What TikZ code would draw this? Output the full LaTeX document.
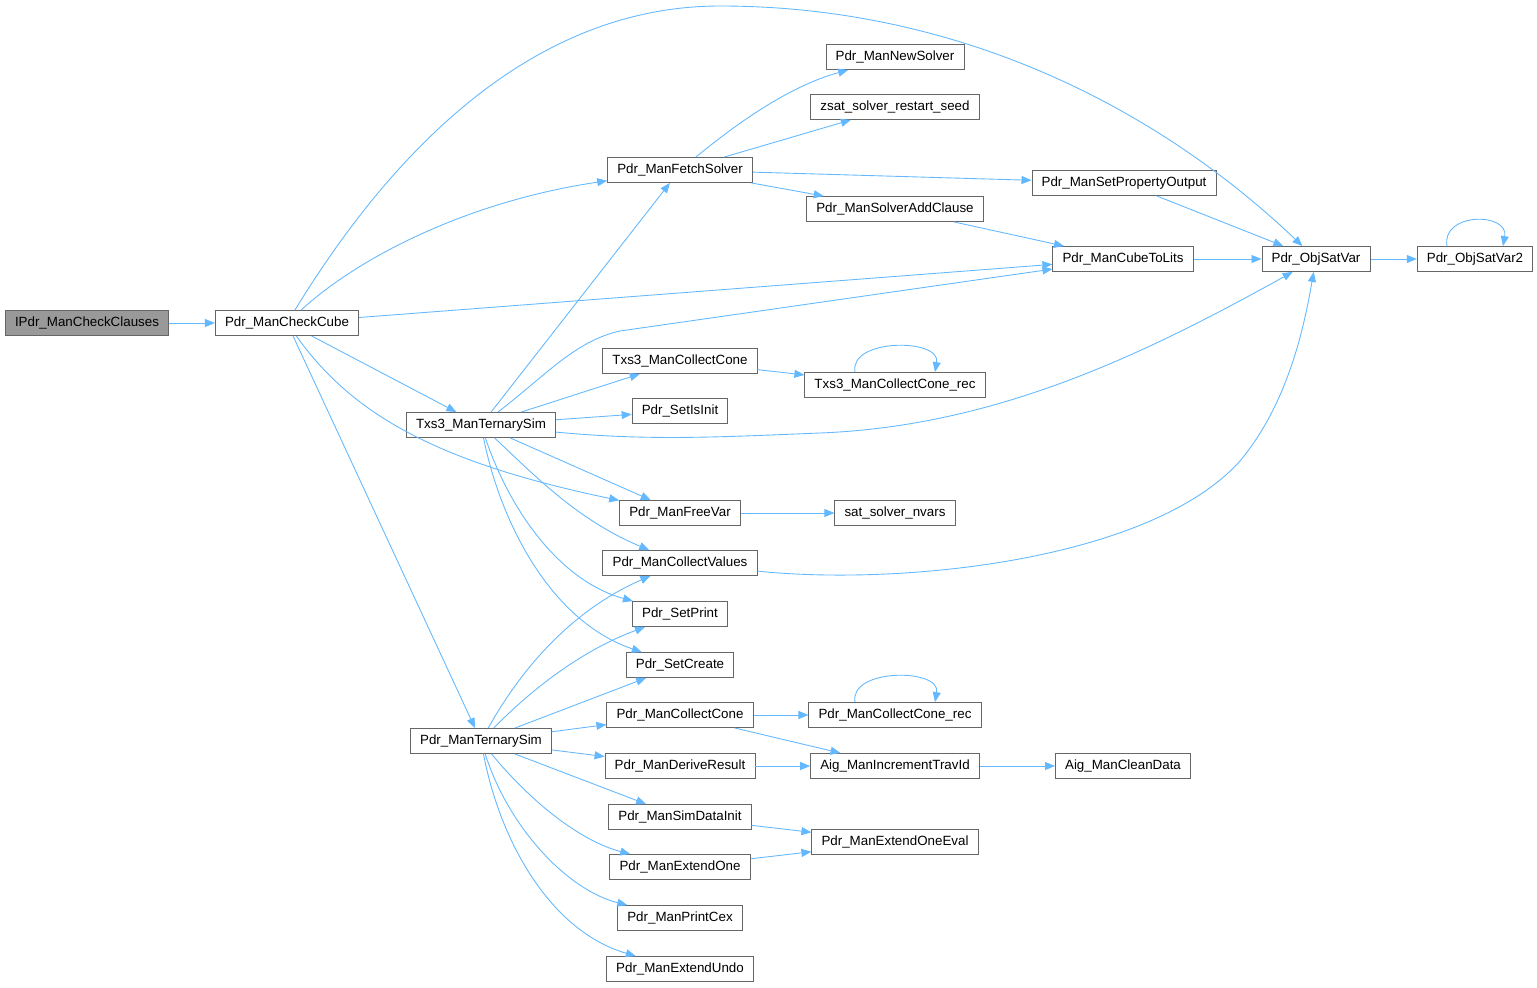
\documentclass[tikz,border=0pt]{standalone}
\usepackage{fontspec}
\setmainfont{Liberation Sans}
\usetikzlibrary{arrows.meta, calc}
\definecolor{callblue}{HTML}{63B8FF}
\definecolor{boxgray}{HTML}{666666}
\definecolor{rootgray}{HTML}{999999}

\begin{document}
\begin{tikzpicture}[
  x=0.02cm, y=-0.02cm,
  font=\fontsize{7.6}{9}\selectfont,
  fn/.style={draw=boxgray, fill=white, line width=0.5pt, minimum height=0.5cm, inner xsep=5.5pt, inner ysep=0pt},
  rootfn/.style={fn, fill=rootgray},
  call/.style={-{Triangle[length=2mm, width=1.6mm]}, callblue, line width=0.5pt}]
\useasboundingbox (0,-1) rectangle (1537,986);
% functions
\node[rootfn] (root) at (87,322) {IPdr\_ManCheckClauses};
\node[fn] (cc)   at (287,322) {Pdr\_ManCheckCube};
\node[fn] (fs)   at (680,169) {Pdr\_ManFetchSolver};
\node[fn] (ns)   at (895,56)  {Pdr\_ManNewSolver};
\node[fn] (zs)   at (895,106) {zsat\_solver\_restart\_seed};
\node[fn] (spo)  at (1124,182) {Pdr\_ManSetPropertyOutput};
\node[fn] (sac)  at (895,208) {Pdr\_ManSolverAddClause};
\node[fn] (ctl)  at (1123,258) {Pdr\_ManCubeToLits};
\node[fn] (osv)  at (1316,258) {Pdr\_ObjSatVar};
\node[fn] (osv2) at (1475,258) {Pdr\_ObjSatVar2};
\node[fn] (tcc)  at (680,360) {Txs3\_ManCollectCone};
\node[fn] (tccr) at (895,384) {Txs3\_ManCollectCone\_rec};
\node[fn] (sii)  at (680,410) {Pdr\_SetIsInit};
\node[fn] (tts)  at (481,424) {Txs3\_ManTernarySim};
\node[fn] (fv)   at (680,512) {Pdr\_ManFreeVar};
\node[fn] (snv)  at (895,512) {sat\_solver\_nvars};
\node[fn] (cv)   at (680,562) {Pdr\_ManCollectValues};
\node[fn] (sp)   at (680,613) {Pdr\_SetPrint};
\node[fn] (sc)   at (680,664) {Pdr\_SetCreate};
\node[fn] (mcc)  at (680,714) {Pdr\_ManCollectCone};
\node[fn] (mccr) at (895,714) {Pdr\_ManCollectCone\_rec};
\node[fn] (pts)  at (481,740) {Pdr\_ManTernarySim};
\node[fn] (dr)   at (680,765) {Pdr\_ManDeriveResult};
\node[fn] (itv)  at (895,765) {Aig\_ManIncrementTravId};
\node[fn] (cd)   at (1123,765) {Aig\_ManCleanData};
\node[fn] (sdi)  at (680,816) {Pdr\_ManSimDataInit};
\node[fn] (eoe)  at (895,841) {Pdr\_ManExtendOneEval};
\node[fn] (eo)   at (680,866) {Pdr\_ManExtendOne};
\node[fn] (pc)   at (680,917) {Pdr\_ManPrintCex};
\node[fn] (eu)   at (680,968) {Pdr\_ManExtendUndo};
% calls from the root and Pdr_ManCheckCube
\draw[call] (root) -- (cc);
\draw[call] (cc) .. controls (380,170) and (520,5) .. (720,5) .. controls (950,5) and (1150,100) .. (osv);
\draw[call] (cc) .. controls (360,255) and (470,200) .. (fs);
\draw[call] (cc) -- (ctl);
\draw[call] (cc) -- (tts);
\draw[call] (cc) .. controls (350,410) and (430,460) .. (fv);
\draw[call] (cc) -- (pts);
% calls from Pdr_ManFetchSolver
\draw[call] (fs) .. controls (740,120) and (790,85) .. (ns);
\draw[call] (fs) -- (zs);
\draw[call] (fs) -- (spo);
\draw[call] (fs) -- (sac);
\draw[call] (spo) -- (osv);
\draw[call] (sac) -- (ctl);
\draw[call] (ctl) -- (osv);
\draw[call] (osv) -- (osv2);
\draw[call] ($(osv2.north)+(-28,0)$) .. controls +(-6,-34) and +(6,-34) .. ($(osv2.north)+(28,0)$);
% calls from Txs3_ManTernarySim
\draw[call] (tts) -- (fs);
\draw[call] (tts) .. controls (545,375) and (575,340) .. (620,330) -- (ctl);
\draw[call] (tts) -- (tcc);
\draw[call] (tts) -- (sii);
\draw[call] (tts) .. controls (650,440) and (720,436) .. (820,432) .. controls (1000,425) and (1150,350) .. (osv);
\draw[call] (tts) -- (fv);
\draw[call] (tts) .. controls (540,480) and (580,520) .. (cv);
\draw[call] (tts) .. controls (510,510) and (560,580) .. (sp);
\draw[call] (tts) .. controls (500,520) and (550,620) .. (sc);
\draw[call] (tcc) -- (tccr);
\draw[call] ($(tccr.north)+(-40,0)$) .. controls +(-6,-34) and +(6,-34) .. ($(tccr.north)+(40,0)$);
\draw[call] (fv) -- (snv);
\draw[call] (cv) .. controls (900,585) and (1150,560) .. (1240,460) .. controls (1290,400) and (1305,320) .. (osv);
% calls from Pdr_ManTernarySim
\draw[call] (pts) .. controls (520,670) and (570,610) .. (cv);
\draw[call] (pts) .. controls (530,690) and (580,650) .. (sp);
\draw[call] (pts) -- (sc);
\draw[call] (pts) -- (mcc);
\draw[call] (pts) -- (dr);
\draw[call] (pts) -- (sdi);
\draw[call] (pts) .. controls (530,800) and (580,840) .. (eo);
\draw[call] (pts) .. controls (510,830) and (570,890) .. (pc);
\draw[call] (pts) .. controls (500,840) and (550,930) .. (eu);
\draw[call] (mcc) -- (mccr);
\draw[call] ($(mccr.north)+(-40,0)$) .. controls +(-6,-34) and +(6,-34) .. ($(mccr.north)+(40,0)$);
\draw[call] (mcc) -- (itv);
\draw[call] (dr) -- (itv);
\draw[call] (itv) -- (cd);
\draw[call] (sdi) -- (eoe);
\draw[call] (eo) -- (eoe);
\end{tikzpicture}
\end{document}
